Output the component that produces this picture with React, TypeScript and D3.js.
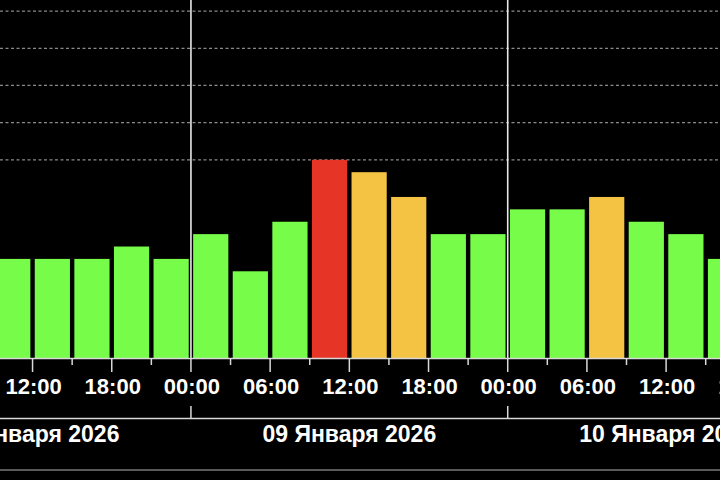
import React from "react";
import * as d3 from "d3";

const barStarts: string[] = [
  "2026-01-08T09:00", "2026-01-08T12:00", "2026-01-08T15:00", "2026-01-08T18:00", "2026-01-08T21:00",
  "2026-01-09T00:00", "2026-01-09T03:00", "2026-01-09T06:00", "2026-01-09T09:00", "2026-01-09T12:00",
  "2026-01-09T15:00", "2026-01-09T18:00", "2026-01-09T21:00",
  "2026-01-10T00:00", "2026-01-10T03:00", "2026-01-10T06:00", "2026-01-10T09:00", "2026-01-10T12:00",
  "2026-01-10T15:00",
];
const barValues: number[] = [8, 8, 8, 9, 8, 10, 7, 11, 16, 15, 13, 10, 10, 12, 12, 13, 11, 10, 8];
const barLevels: string[] = [
  "ok", "ok", "ok", "ok", "ok", "ok", "ok", "ok", "high", "mid", "mid", "ok", "ok",
  "ok", "ok", "mid", "ok", "ok", "ok",
];
const levelColors: Record<string, string> = { ok: "#77fc4a", mid: "#f4c343", high: "#e63526" };

const gridValues: number[] = [16, 19, 22, 25, 28];
const dayStarts: string[] = ["2026-01-08T00:00", "2026-01-09T00:00", "2026-01-10T00:00"];
const dayLabels: string[] = ["08 Января 2026", "09 Января 2026", "10 Января 2026"];
const viewStart = "2026-01-08T09:32";
const viewEnd = "2026-01-10T16:05";
const yMax = 28.9;

const W = 720;
const H = 480;
const baseY = 358;
const dayLineY = 418.5;
const bottomLineY = 470;
const FONT = "'Liberation Sans', Arial, sans-serif";

export default function App() {
  const parse = (s: string) => new Date(s);
  const x = d3.scaleTime().domain([parse(viewStart), parse(viewEnd)]).range([0, W]);
  const y = d3.scaleLinear().domain([0, yMax]).range([baseY, 0]);

  const ticks = d3.timeHour.every(3)!.range(d3.timeHour.offset(parse(viewStart), -6), d3.timeHour.offset(parse(viewEnd), 6));
  const fmt = d3.timeFormat("%H:%M");
  const pad = 2.2;

  return (
    <svg width={W} height={H} style={{ position: "fixed", left: 0, top: 0, display: "block" }}>
      <rect x={0} y={0} width={W} height={H} fill="#000" />
      {gridValues.map((g) => (
        <line key={g} x1={0} x2={W} y1={y(g)} y2={y(g)} stroke="#8a8a8a" strokeWidth={1.2} strokeDasharray="3,2.5" />
      ))}
      {barStarts.map((s, i) => {
        const t0 = parse(s);
        const t1 = d3.timeHour.offset(t0, 3);
        const x0 = x(t0) + pad;
        const x1 = x(t1) - pad;
        return (
          <rect key={s} x={x0} y={y(barValues[i])} width={x1 - x0} height={baseY - y(barValues[i])} fill={levelColors[barLevels[i]]} />
        );
      })}
      {dayStarts.map((s) => (
        <line key={s} x1={x(parse(s))} x2={x(parse(s))} y1={0} y2={baseY} stroke="#e8e8e8" strokeWidth={1.6} />
      ))}
      <line x1={0} x2={W} y1={baseY + 0.5} y2={baseY + 0.5} stroke="#d8d8d8" strokeWidth={1.5} />
      {ticks.map((t) => {
        const major = t.getHours() % 6 === 0;
        const tx = x(t);
        return (
          <g key={t.getTime()}>
            <line x1={tx} x2={tx} y1={baseY} y2={major ? baseY + 14 : baseY + 7} stroke="#d8d8d8" strokeWidth={1.5} />
            {major && (
              <text x={tx + 1} y={394} textAnchor="middle" fill="#fff" fontFamily={FONT} fontWeight="bold" fontSize={22}>
                {fmt(t)}
              </text>
            )}
          </g>
        );
      })}
      {dayStarts.map((s) => (
        <line key={"dt" + s} x1={x(parse(s))} x2={x(parse(s))} y1={406} y2={dayLineY} stroke="#d8d8d8" strokeWidth={1.5} />
      ))}
      <line x1={0} x2={W} y1={dayLineY} y2={dayLineY} stroke="#d8d8d8" strokeWidth={1.5} />
      {dayStarts.map((s, i) => (
        <text key={"dl" + s} x={x(d3.timeHour.offset(parse(s), 12))} y={441.5} textAnchor="middle" fill="#fff" fontFamily={FONT} fontWeight="bold" fontSize={23}>
          {dayLabels[i]}
        </text>
      ))}
      <line x1={0} x2={W} y1={bottomLineY} y2={bottomLineY} stroke="#5a5a5a" strokeWidth={2} />
    </svg>
  );
}
